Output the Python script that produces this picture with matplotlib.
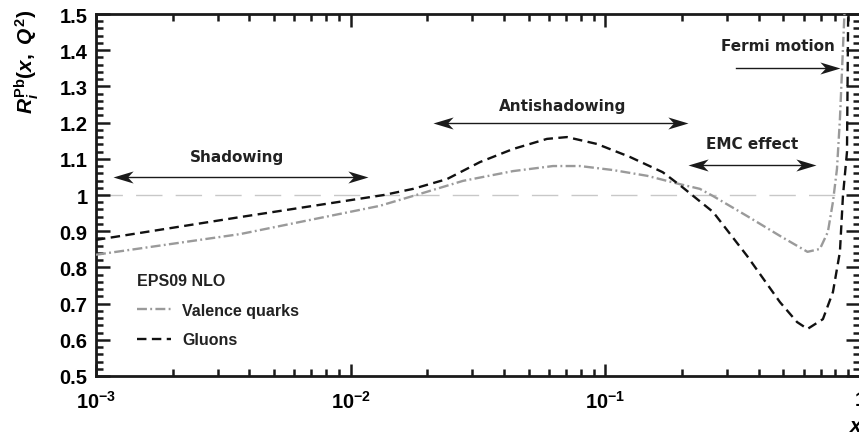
import numpy as np
import matplotlib
matplotlib.use('Agg')
import matplotlib.pyplot as plt
from matplotlib.path import Path
from matplotlib.ticker import MultipleLocator, LogLocator, NullFormatter

plt.rcParams['font.family'] = 'Liberation Sans'
plt.rcParams['font.weight'] = 'bold'
plt.rcParams['mathtext.fontset'] = 'custom'
plt.rcParams['mathtext.rm'] = 'Liberation Sans:bold'
plt.rcParams['mathtext.bf'] = 'Liberation Sans:bold'
plt.rcParams['mathtext.it'] = 'Liberation Sans:italic:bold'

# EPS09 NLO nuclear modification for Pb
x_gluon = [0.001, 0.00368, 0.0135, 0.0176, 0.0239, 0.0322, 0.0434, 0.059, 0.0707,
           0.0927, 0.125, 0.168, 0.198, 0.229, 0.265, 0.360, 0.485, 0.566,
           0.622, 0.715, 0.783, 0.834, 0.857, 0.889, 0.900]
r_gluon = [0.876, 0.939, 1.000, 1.017, 1.044, 1.091, 1.127, 1.155, 1.160,
           1.141, 1.105, 1.063, 1.025, 0.989, 0.953, 0.832, 0.704, 0.649,
           0.630, 0.657, 0.732, 0.843, 0.997, 1.119, 1.56]

x_valence = [0.001, 0.00368, 0.0130, 0.0187, 0.0276, 0.0434, 0.0623, 0.0795,
             0.107, 0.146, 0.196, 0.235, 0.265, 0.360, 0.485, 0.622, 0.696,
             0.748, 0.783, 0.812, 0.834, 0.876]
r_valence = [0.835, 0.892, 0.970, 1.003, 1.039, 1.066, 1.080, 1.080,
             1.069, 1.053, 1.030, 1.017, 0.997, 0.942, 0.887, 0.843, 0.851,
             0.898, 0.981, 1.072, 1.210, 1.56]

# region labels: (text, x_left, x_right, y_arrow, x_text, y_text, both heads)
regions = [
    ('Shadowing', 0.001166, 0.01169, 1.050, 0.00358, 1.105, True),
    ('Antishadowing', 0.0210, 0.2110, 1.199, 0.0682, 1.246, True),
    ('EMC effect', 0.2110, 0.6714, 1.083, 0.3764, 1.141, True),
    ('Fermi motion', 0.3113, 0.8338, 1.351, 0.4762, 1.412, False),
]

xticks = [1e-3, 1e-2, 1e-1, 1]
xticklabels = [r'$10^{-3}$', r'$10^{-2}$', r'$10^{-1}$', '1']

W, H = 859, 435
fig = plt.figure(figsize=(W / 100, H / 100), dpi=100)
ax = fig.add_axes([96 / W, (H - 377) / H, 764 / W, 362 / H])

ax.axhline(1.0, color='#c8c8c8', lw=1.0, dashes=(19, 9.5), zorder=1)
ax.plot(x_valence, r_valence, color='#9a9a9a', lw=1.7,
        dashes=(4.2, 1.4, 0.8, 1.4), label='Valence quarks', zorder=3)
ax.plot(x_gluon, r_gluon, color='#111111', lw=1.7,
        dashes=(4.0, 2.3), label='Gluons', zorder=4)

# stealth-like arrow heads
head_r = Path([(0, 0), (-1, 0.3), (-0.72, 0), (-1, -0.3), (0, 0)],
              [Path.MOVETO, Path.LINETO, Path.LINETO, Path.LINETO, Path.CLOSEPOLY])
head_l = Path([(0, 0), (1, 0.3), (0.72, 0), (1, -0.3), (0, 0)],
              [Path.MOVETO, Path.LINETO, Path.LINETO, Path.LINETO, Path.CLOSEPOLY])

for text, xl, xr, ya, xt, yt, both in regions:
    ax.plot([xl * 1.05, xr / 1.05], [ya, ya], color='#1a1a1a', lw=1.0, zorder=5)
    ax.plot([xr], [ya], marker=head_r, markersize=29, color='#1a1a1a',
            markeredgewidth=0, zorder=6)
    if both:
        ax.plot([xl], [ya], marker=head_l, markersize=29, color='#1a1a1a',
                markeredgewidth=0, zorder=6)
    ax.text(xt, yt, text, family='DejaVu Sans', fontweight='bold', fontsize=11,
            color='#222222', ha='center', va='center')

ax.set_xscale('log')
ax.set_xlim(1e-3, 1)
ax.set_ylim(0.5, 1.5)
ax.set_xticks(xticks)
ax.set_xticklabels(xticklabels)
ax.xaxis.set_minor_locator(LogLocator(base=10, subs=np.arange(2, 10)))
ax.xaxis.set_minor_formatter(NullFormatter())
ax.yaxis.set_minor_locator(MultipleLocator(0.02))
ax.set_yticks(np.arange(0.5, 1.51, 0.1))
ax.set_yticklabels(['%g' % round(v, 1) for v in np.arange(0.5, 1.51, 0.1)])

ax.tick_params(which='both', direction='in', top=True, right=True,
               width=1.8, color='#1a1a1a')
ax.tick_params(axis='y', which='major', length=10, pad=6, labelsize=14.5)
ax.tick_params(axis='y', which='minor', length=5)
ax.tick_params(axis='x', which='major', length=9, pad=10, labelsize=14.5)
ax.tick_params(axis='x', which='minor', length=5)
for s in ax.spines.values():
    s.set_linewidth(2.0)
    s.set_color('#1a1a1a')

leg = ax.legend(loc='upper left', bbox_to_anchor=(123 / W, (H - 260) / H),
                bbox_transform=fig.transFigure, frameon=False,
                title='EPS09 NLO', alignment='left',
                prop={'family': 'Liberation Sans', 'weight': 'bold', 'size': 11.5},
                title_fontproperties={'family': 'Liberation Sans', 'weight': 'bold',
                                      'size': 11.5},
                handlelength=2.1, handletextpad=0.7, labelspacing=0.9)
leg.get_title().set_color('#222222')
for t in leg.get_texts():
    t.set_color('#222222')

fig.text(27 / W, 1 - 10 / H, r'$R_i^{\mathrm{Pb}}(x,\ Q^2)$', rotation=90,
         ha='center', va='top', fontsize=15)
fig.text(850 / W, 1 - 427 / H, 'x', fontstyle='italic', fontweight='bold',
         fontsize=15, ha='left', va='center')

fig.savefig('out.png', dpi=100)
